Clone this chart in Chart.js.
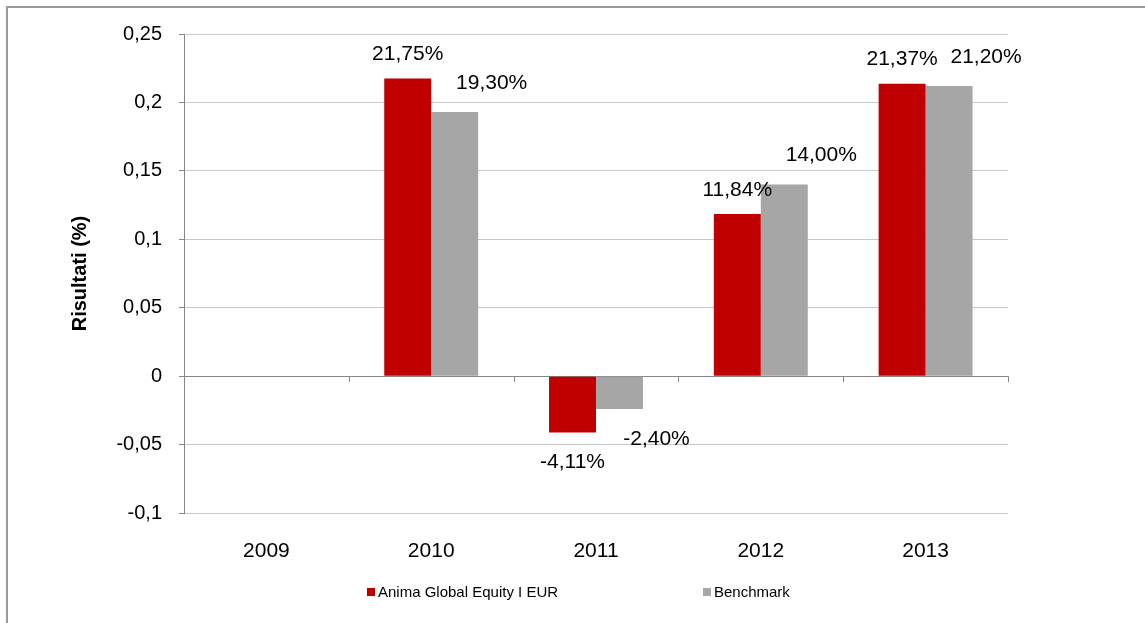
<!DOCTYPE html>
<html>
<head>
<meta charset="utf-8">
<script src="https://cdn.jsdelivr.net/npm/chart.js@4.4.1/dist/chart.umd.min.js"></script>
<style>
  body { margin: 0; background: #fff; overflow: hidden; }
  #frame { position: absolute; left: 6px; top: 6px; width: 1160px; height: 640px;
           border-left: 2px solid #9a9a9a; border-top: 2px solid #9a9a9a; }
  #chart { position: absolute; left: 0; top: 0; }
</style>
</head>
<body>
<div id="frame"><canvas id="chart" width="1137" height="615"></canvas></div>
<script>
// anni e rendimenti
const years = ['2009', '2010', '2011', '2012', '2013'];
const fondo = [null, 0.2175, -0.0411, 0.1184, 0.2137];
const benchmark = [null, 0.193, -0.024, 0.14, 0.212];
const seriesNames = ['Anima Global Equity I EUR', 'Benchmark'];
const yTicks = [-0.1, -0.05, 0, 0.05, 0.1, 0.15, 0.2, 0.25];

const colRed = '#c00000';
const colGray = '#a6a6a6';
const fontName = '"Liberation Sans", Arial, sans-serif';

function comma(v) {
    return String(Number(v.toFixed(4))).replace('.', ',');
}

// etichette sopra/sotto le barre
const labelsPlugin = {
    id: 'barLabels',
    afterDatasetsDraw(chart) {
        const ctx = chart.ctx;
        const shift = [0, 37];
        ctx.save();
        ctx.font = '21px ' + fontName;
        ctx.fillStyle = '#000';
        ctx.textAlign = 'center';
        ctx.textBaseline = 'middle';
        chart.data.datasets.forEach(function(ds, i) {
            const meta = chart.getDatasetMeta(i);
            meta.data.forEach(function(bar, j) {
                const v = ds.data[j];
                if (v === null) return;
                const y = v >= 0 ? bar.y - (i ? 29 : 24) : bar.y + 30;
                ctx.fillText((v * 100).toFixed(2).replace('.', ',') + '%', bar.x + shift[i], y);
            });
        });
        ctx.restore();
    }
};

// tacche sull'asse zero + legenda
const extrasPlugin = {
    id: 'extras',
    afterDraw(chart) {
        const ctx = chart.ctx;
        const y0 = chart.scales.y.getPixelForValue(0);
        const step = (chart.chartArea.right - chart.chartArea.left) / years.length;
        ctx.save();
        ctx.strokeStyle = '#868686';
        ctx.lineWidth = 1;
        for (let i = 1; i <= years.length; i++) {
            const x = Math.round(chart.chartArea.left + step * i) + 0.5;
            ctx.beginPath();
            ctx.moveTo(x, y0);
            ctx.lineTo(x, y0 + 6);
            ctx.stroke();
        }
        // legenda
        const items = [[359, colRed], [695, colGray]];
        ctx.font = '15px ' + fontName;
        ctx.textBaseline = 'middle';
        ctx.textAlign = 'left';
        items.forEach(function(it, i) {
            ctx.fillStyle = it[1];
            ctx.fillRect(it[0], 580, 8, 8);
            ctx.fillStyle = '#000';
            ctx.fillText(seriesNames[i], it[0] + 11, 585);
        });
        ctx.restore();
    }
};

new Chart(document.getElementById('chart').getContext('2d'), {
    type: 'bar',
    data: {
        labels: years,
        datasets: [
            { label: seriesNames[0], data: fondo, backgroundColor: colRed, borderWidth: 0 },
            { label: seriesNames[1], data: benchmark, backgroundColor: colGray, borderWidth: 0 }
        ]
    },
    options: {
        responsive: false,
        animation: false,
        layout: { padding: { top: 26, right: 137, left: 0, bottom: 0 } },
        datasets: { bar: { categoryPercentage: 0.57, barPercentage: 1 } },
        scales: {
            x: {
                grid: { display: false },
                border: { display: false },
                ticks: { color: '#000', font: { size: 21, family: fontName }, padding: 18 },
                afterFit: function(s) { s.height = 110; }
            },
            y: {
                min: -0.1,
                max: 0.25,
                afterBuildTicks: function(s) { s.ticks = yTicks.map(v => ({ value: v })); },
                grid: {
                    color: c => (c.tick && c.tick.value === 0) ? '#868686' : '#c8c8c8',
                    tickColor: '#868686',
                    tickLength: 5
                },
                border: { color: '#868686', width: 1 },
                ticks: {
                    color: '#000',
                    font: { size: 20, family: fontName },
                    padding: 17,
                    callback: v => comma(v)
                },
                title: {
                    display: true,
                    text: 'Risultati (%)',
                    color: '#000',
                    font: { size: 20, weight: 'bold', family: fontName },
                    padding: { top: 60, bottom: 0 }
                },
                afterFit: function(s) { s.width = 176; s.paddingTop = 0; s.paddingBottom = 0; }
            }
        },
        plugins: {
            legend: { display: false },
            tooltip: { enabled: false }
        }
    },
    plugins: [labelsPlugin, extrasPlugin]
});
</script>
</body>
</html>
